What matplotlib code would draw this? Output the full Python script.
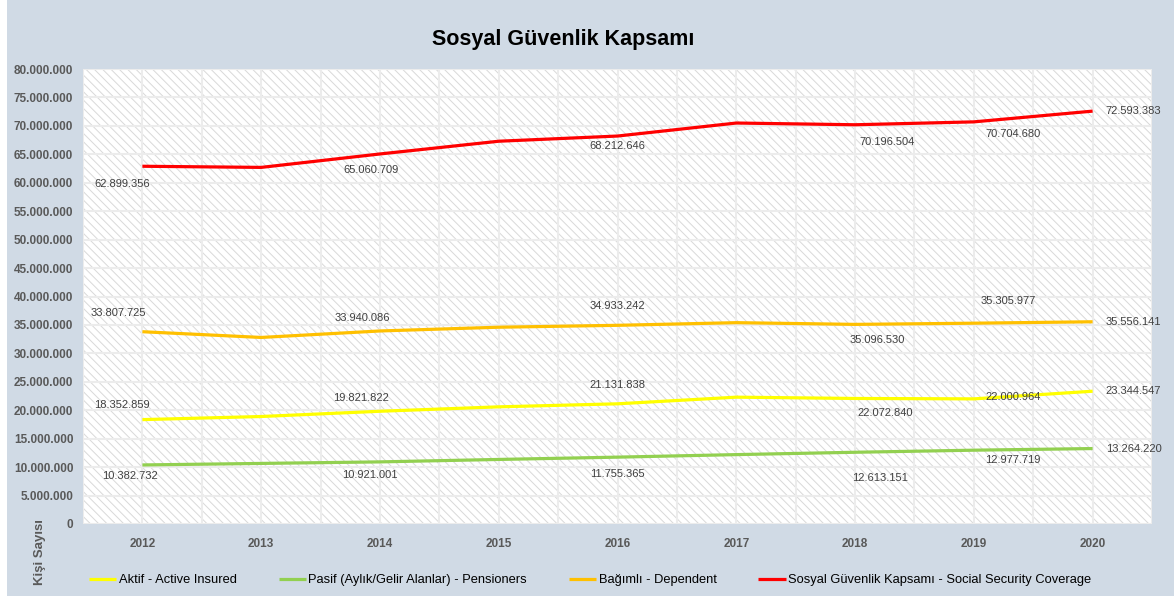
# sosyal_guvenlik.py

import matplotlib
matplotlib.use('Agg')
import matplotlib.pyplot as plt
from matplotlib.patches import Rectangle
from matplotlib.ticker import FuncFormatter, MultipleLocator

yillar = [2012, 2013, 2014, 2015, 2016, 2017, 2018, 2019, 2020]

aktif = [18352859, 18900000, 19821822, 20600000, 21131838, 22300000, 22072840, 22000964, 23344547]
pasif = [10382732, 10650000, 10921001, 11350000, 11755365, 12200000, 12613151, 12977719, 13264220]
bagimli = [33807725, 32800000, 33940086, 34600000, 34933242, 35400000, 35096530, 35305977, 35556141]
toplam = [62899356, 62700000, 65060709, 67300000, 68212646, 70500000, 70196504, 70704680, 72593383]

etiketli_yillar = [2012, 2014, 2016, 2018, 2019, 2020]

seriler = [
    ("Aktif - Active Insured", aktif, "#FFFF00"),
    ("Pasif (Aylık/Gelir Alanlar) - Pensioners", pasif, "#92D050"),
    ("Bağımlı - Dependent", bagimli, "#FFC000"),
    ("Sosyal Güvenlik Kapsamı - Social Security Coverage", toplam, "#FF0000"),
]

# label offsets in pixels (dx, dy) for 2012, 2014, 2016, 2018, 2019 ; 2020 goes to the right
kaydirmalar = {
    "Aktif - Active Insured": [(-20, 15), (-19, 13), (0, 19), (30, -15), (39, 2)],
    "Pasif (Aylık/Gelir Alanlar) - Pensioners": [(-12, -11), (-10, -13), (0, -17), (25, -26), (39, -10)],
    "Bağımlı - Dependent": [(-24, 19), (-18, 13), (0, 19), (22, -16), (34, 22)],
    "Sosyal Güvenlik Kapsamı - Social Security Coverage": [(-20, -18), (-9, -16), (0, -10), (32, -17), (39, -12)],
}

ARKA = "#D0DAE5"
GRI = "#595959"

plt.rcParams['font.family'] = ['Liberation Sans', 'DejaVu Sans']
plt.rcParams['hatch.linewidth'] = 0.7


def nokta_format(v, pos):
    return f"{int(v):,}".replace(",", ".")


def main():
    fig = plt.figure(figsize=(11.74, 5.96), dpi=100, facecolor=ARKA)
    fig.patches.append(Rectangle((0, 0), 7 / 1174, 1, transform=fig.transFigure,
                                 facecolor="white", edgecolor="none", zorder=-1))
    ax = fig.add_axes([83 / 1174, 1 - 524 / 596, (1152 - 83) / 1174, (524 - 69) / 596])
    ax.set_facecolor("white")
    ax.add_patch(Rectangle((0, 0), 1, 1, transform=ax.transAxes, facecolor="white",
                           edgecolor="#d9d9d9", linewidth=0, hatch="\\\\\\\\", zorder=0))

    for ad, degerler, renk in seriler:
        ax.plot(yillar, degerler, color=renk, linewidth=2.3, label=ad, zorder=3,
                solid_capstyle='butt')
        for i, yil in enumerate(etiketli_yillar):
            v = degerler[yillar.index(yil)]
            metin = nokta_format(v, None)
            if yil == 2020:
                ax.annotate(metin, (yil, v), xytext=(13, 0), textcoords='offset pixels',
                            ha='left', va='center', fontsize=8, color="#404040", zorder=4)
            else:
                dx, dy = kaydirmalar[ad][i]
                ax.annotate(metin, (yil, v), xytext=(dx, dy), textcoords='offset pixels',
                            ha='center', va='center', fontsize=8, color="#404040", zorder=4)

    ax.set_xlim(2011.5, 2020.5)
    ax.set_ylim(0, 80000000)
    ax.set_xticks(yillar)
    ax.set_xticks([y - 0.5 for y in yillar] + [2020.5], minor=True)
    ax.yaxis.set_major_locator(MultipleLocator(5000000))
    ax.yaxis.set_major_formatter(FuncFormatter(nokta_format))
    ax.grid(True, which='both', axis='x', color="#ececec", linewidth=1.5, zorder=1)
    ax.grid(True, which='major', axis='y', color="#ececec", linewidth=1.5, zorder=1)
    ax.set_axisbelow(True)
    for s in ax.spines.values():
        s.set_visible(False)
    ax.tick_params(axis='both', which='both', length=0)
    ax.tick_params(axis='x', pad=10)
    ax.tick_params(axis='y', pad=7)
    for lbl in ax.get_xticklabels() + ax.get_yticklabels():
        lbl.set_fontsize(8.5)
        lbl.set_fontweight('bold')
        lbl.set_color(GRI)

    fig.text(563 / 1174, 1 - 40 / 596, "Sosyal Güvenlik Kapsamı", ha='center', va='center',
             fontsize=15.5, fontweight='bold', color="black")
    fig.text(40 / 1174, 1 - 552 / 596, "Kişi Sayısı", rotation=90, ha='center', va='center',
             fontsize=9.5, fontweight='bold', color=GRI)

    fig.legend(loc='center left', bbox_to_anchor=(89 / 1174, 1 - 580 / 596), ncol=4,
               frameon=False, fontsize=9.3, handlelength=2.1, handletextpad=0.2,
               columnspacing=3.25, borderpad=0, borderaxespad=0)

    fig.savefig("out.png", dpi=100, facecolor=ARKA)


if __name__ == "__main__":
    main()
